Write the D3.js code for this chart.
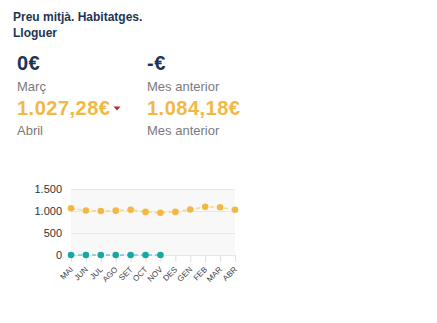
<!DOCTYPE html>
<html>
<head>
<meta charset="utf-8">
<script src="https://cdn.jsdelivr.net/npm/d3@7"></script>
<style>
  html, body { margin: 0; padding: 0; background: #fff; }
  svg { display: block; font-family: "Liberation Sans", Arial, sans-serif; }
</style>
</head>
<body>
<svg id="chart" width="437" height="323"></svg>
<script>
// Monthly average rent (€), current and previous period
const months = ["MAI", "JUN", "JUL", "AGO", "SET", "OCT", "NOV", "DES", "GEN", "FEB", "MAR", "ABR"];
const rentPrev = [1060, 1010, 1000, 1008, 1030, 980, 960, 980, 1035, 1095, 1084.18, 1027.28];
const rentCurr = [0, 0, 0, 0, 0, 0, 0];
const yTicks = [0, 500, 1000, 1500];

const navy = "#1d3553", orange = "#f2b843", teal = "#17a8a3", grey = "#7a7a7a";

const svg = d3.select("#chart");

// Title
const title = svg.append("text").attr("x", 13).attr("fill", navy)
  .attr("font-size", 12).attr("font-weight", "bold");
title.append("tspan").attr("x", 13).attr("y", 21).text("Preu mitjà. Habitatges.");
title.append("tspan").attr("x", 13).attr("y", 37).text("Lloguer");

// Summary figures
const fmt = v => v.toLocaleString("de-DE", { minimumFractionDigits: 2, maximumFractionDigits: 2 }) + "€";
const cols = [
  { x: 17, top: "0€", topLabel: "Març", val: fmt(rentPrev[11]), valLabel: "Abril", arrow: true },
  { x: 147, top: "-€", topLabel: "Mes anterior", val: fmt(rentPrev[10]), valLabel: "Mes anterior", arrow: false }
];
cols.forEach(c => {
  svg.append("text").attr("x", c.x).attr("y", 70).attr("fill", navy)
    .attr("font-size", 20).attr("font-weight", "bold").attr("letter-spacing", 0.5).text(c.top);
  svg.append("text").attr("x", c.x).attr("y", 91).attr("fill", grey)
    .attr("font-size", 13).text(c.topLabel);
  const t = svg.append("text").attr("x", c.x).attr("y", 115).attr("fill", orange)
    .attr("font-size", 20).attr("font-weight", "bold").attr("letter-spacing", 0.5).text(c.val);
  svg.append("text").attr("x", c.x).attr("y", 135).attr("fill", grey)
    .attr("font-size", 13).text(c.valLabel);
  if (c.arrow) {
    const w = t.node().getComputedTextLength();
    const ax = c.x + w + 3;
    svg.append("path").attr("fill", "#c3262e")
      .attr("d", `M${ax},106.5 L${ax + 7},106.5 L${ax + 3.5},110.5 Z`);
  }
});

// Chart
const x = d3.scalePoint().domain(months).range([71, 235]);
const y = d3.scaleLinear().domain([0, 1500]).range([255, 189]);

svg.append("rect").attr("x", x.range()[0]).attr("y", y(1500))
  .attr("width", x.range()[1] - x.range()[0]).attr("height", y(0) - y(1500))
  .attr("fill", "#f8f8f8");

const yAxis = svg.append("g").attr("transform", `translate(${x.range()[0]},0)`)
  .call(d3.axisLeft(y).tickValues(yTicks)
    .tickSize(-(x.range()[1] - x.range()[0]))
    .tickFormat(d => d.toLocaleString("de-DE")));
yAxis.select(".domain").remove();
yAxis.selectAll(".tick line").attr("stroke", "#e8e8e8");
yAxis.selectAll(".tick text").attr("x", -9).attr("fill", "#333")
  .attr("font-size", 11).attr("font-family", "Liberation Sans, Arial, sans-serif");

const xAxis = svg.append("g").attr("transform", `translate(0,${y(0)})`)
  .call(d3.axisBottom(x).tickSize(7).tickPadding(2));
xAxis.select(".domain").remove();
xAxis.selectAll(".tick line").attr("stroke", "#dedede");
xAxis.selectAll(".tick text").attr("fill", "#444").attr("font-size", 8)
  .attr("font-family", "Liberation Sans, Arial, sans-serif")
  .attr("text-anchor", "end").attr("dy", "0.35em")
  .attr("transform", "translate(0,13) rotate(-45)").attr("y", 0).attr("x", 0);

function series(vals, color) {
  const pts = vals.map((v, i) => [x(months[i]), y(v)]);
  svg.append("path").attr("d", d3.line()(pts)).attr("fill", "none")
    .attr("stroke", color).attr("stroke-opacity", 0.55)
    .attr("stroke-width", 1.5).attr("stroke-dasharray", "4,3");
  svg.append("g").selectAll("circle").data(pts).join("circle")
    .attr("cx", d => d[0]).attr("cy", d => d[1]).attr("r", 3.3).attr("fill", color);
}
series(rentPrev, orange);
series(rentCurr, teal);
</script>
</body>
</html>
